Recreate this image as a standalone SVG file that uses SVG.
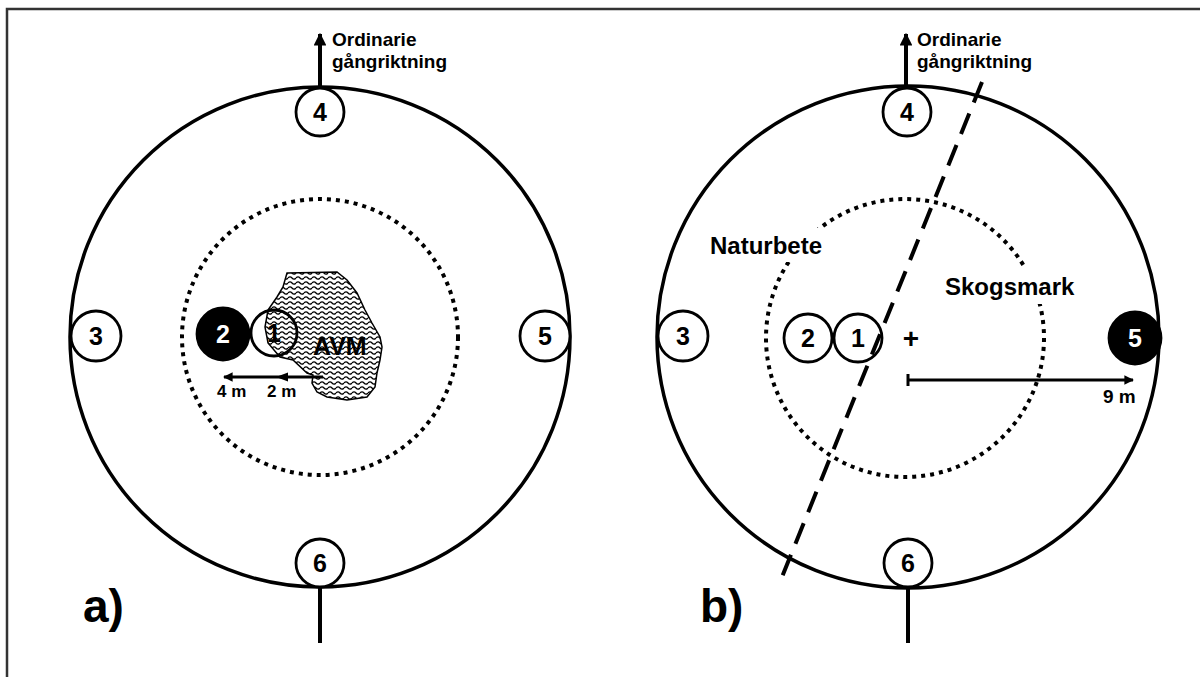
<svg xmlns="http://www.w3.org/2000/svg" width="1200" height="677" viewBox="0 0 1200 677">
<defs>
<style>
.big{fill:none;stroke:#000;stroke-width:3.5}
.dot{fill:none;stroke:#000;stroke-width:4;stroke-dasharray:4 5}
.sc{fill:#fff;stroke:#000;stroke-width:2.8}
.scf{fill:#000;stroke:#000;stroke-width:2.8}
.num{font-family:"Liberation Sans",Arial,sans-serif;font-weight:bold;font-size:25px;text-anchor:middle}
.lbl{font-family:"Liberation Sans",Arial,sans-serif;font-weight:bold}
.ln{stroke:#000;stroke-width:4;fill:none}
</style>
<pattern id="wave" width="8" height="5" patternUnits="userSpaceOnUse">
<rect width="8" height="5" fill="#fff"/>
<path d="M0 3 Q2 0.8 4 3 T8 3" fill="none" stroke="#000" stroke-width="1.3"/>
</pattern>
<marker id="ah" viewBox="0 0 10 10" refX="9" refY="5" markerWidth="3.2" markerHeight="3.2" orient="auto" markerUnits="strokeWidth">
<path d="M0 0 L10 5 L0 10 z" fill="#000"/>
</marker>
</defs>
<rect width="1200" height="677" fill="#fff"/>
<path d="M7 677 V9 H1200" fill="none" stroke="#333" stroke-width="2.5"/>

<!-- panel a -->
<g id="panel-a">
<circle class="big" cx="320" cy="337" r="250"/>
<circle class="dot" cx="320" cy="337" r="138"/>
<path id="avm" d="M287,273 L337,272 L347,280 L357,293 L365,310 L372,323 L380,337 L382,347 L380,360 L377,373 L375,387 L367,397 L347,400 L327,397 L317,392 L312,383 L313,375 L307,373 L293,360 L280,357 L268,343 L265,327 L268,310 L277,297 L283,287 Z" fill="url(#wave)" stroke="#000" stroke-width="1.5"/>
<text class="lbl" x="313" y="355" font-size="25">AVM</text>
</g>
<g id="a-node-4"><circle class="sc" cx="320" cy="112" r="24"/><text class="num" x="320" y="121">4</text></g>
<g id="a-node-6"><circle class="sc" cx="320" cy="563" r="24"/><text class="num" x="320" y="572">6</text></g>
<g id="a-node-3"><circle class="sc" cx="96" cy="336" r="25"/><text class="num" x="96" y="345">3</text></g>
<g id="a-node-5"><circle class="sc" cx="545" cy="336" r="25"/><text class="num" x="545" y="345">5</text></g>
<g id="a-node-2"><circle class="scf" cx="223" cy="334" r="26"/><text class="num" x="223" y="343" fill="#fff">2</text></g>
<g id="a-node-1"><circle cx="274" cy="333" r="23" fill="none" stroke="#000" stroke-width="2.8"/><text class="num" x="274" y="342">1</text></g>

<!-- panel b -->
<g id="panel-b">
<circle class="big" cx="908" cy="337" r="251"/>
<circle class="dot" cx="905" cy="338" r="139"/>
<rect x="705" y="228" width="130" height="34" fill="#fff"/>
<text class="lbl" x="710" y="254" font-size="24">Naturbete</text>
<rect x="940" y="268" width="130" height="36" fill="#fff"/>
<text class="lbl" x="945" y="295" font-size="24">Skogsmark</text>
<text class="lbl" x="911" y="348" font-size="28" text-anchor="middle">+</text>
</g>
<g id="b-node-4"><circle class="sc" cx="907" cy="112" r="24"/><text class="num" x="907" y="121">4</text></g>
<g id="b-node-6"><circle class="sc" cx="908" cy="563" r="24"/><text class="num" x="908" y="572">6</text></g>
<g id="b-node-3"><circle class="sc" cx="683" cy="336" r="25"/><text class="num" x="683" y="345">3</text></g>
<g id="b-node-5"><circle class="scf" cx="1135" cy="338" r="26"/><text class="num" x="1135" y="347" fill="#fff">5</text></g>
<g id="b-node-2"><circle class="sc" cx="808" cy="338" r="24"/><text class="num" x="808" y="347">2</text></g>
<g id="b-node-1"><circle class="sc" cx="858" cy="338" r="24"/><text class="num" x="858" y="347">1</text></g>

<g id="connectors">
<path d="M982,82 L782,577" stroke="#000" stroke-width="4" stroke-dasharray="22 12" fill="none"/>
<line class="ln" x1="320" y1="87" x2="320" y2="34" marker-end="url(#ah)"/>
<line class="ln" x1="320" y1="588" x2="320" y2="643"/>
<line class="ln" x1="906" y1="87" x2="906" y2="34" marker-end="url(#ah)"/>
<line class="ln" x1="908" y1="588" x2="908" y2="643"/>
<line x1="323" y1="377" x2="224" y2="377" stroke="#000" stroke-width="3" marker-end="url(#ah)"/>
<path d="M276 377 L288 372.5 L288 381.5 Z" fill="#000"/>
<line x1="908" y1="380" x2="1133" y2="380" stroke="#000" stroke-width="3" marker-end="url(#ah)"/>
<line x1="908" y1="374" x2="908" y2="386" stroke="#000" stroke-width="3"/>
</g>

<g id="labels">
<text class="lbl" x="332" y="46" font-size="19">Ordinarie</text>
<text class="lbl" x="332" y="68" font-size="19">gångriktning</text>
<text class="lbl" x="917" y="46" font-size="19">Ordinarie</text>
<text class="lbl" x="917" y="68" font-size="19">gångriktning</text>
<text class="lbl" x="217" y="397" font-size="17">4 m</text>
<text class="lbl" x="267" y="397" font-size="17">2 m</text>
<text class="lbl" x="1103" y="403" font-size="19">9 m</text>
<text class="lbl" x="83" y="622" font-size="46">a)</text>
<text class="lbl" x="700" y="622" font-size="46">b)</text>
</g>
</svg>
